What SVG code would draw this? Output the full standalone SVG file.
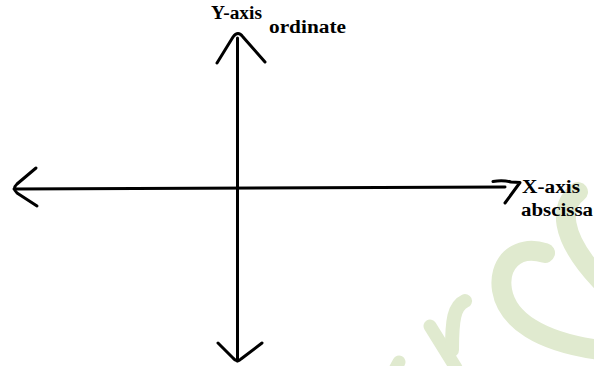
<svg xmlns="http://www.w3.org/2000/svg" width="594" height="366" viewBox="0 0 594 366">
  <style>
    .wm { fill: none; stroke: #e0eacf; stroke-linecap: round; }
    .ax { fill: none; stroke: #000; stroke-width: 3; stroke-linecap: round; stroke-linejoin: round; }
    .lbl { font-family: "Liberation Serif", "DejaVu Serif", serif; font-weight: bold; font-size: 18.5px; fill: #000; }
  </style>
  <rect width="594" height="366" fill="#fff"/>
  <g id="watermark">
    <path class="wm" stroke-width="20" d="M545 253 C 515 244, 498 265, 502 290 C 507 320, 540 342, 600 350"/>
    <path class="wm" stroke-width="20" d="M578 192 C 560 205, 558 235, 600 280"/>
    <path class="wm" stroke-width="13" d="M430 326 L 456 368"/>
    <path class="wm" stroke-width="14" d="M452 350 C 452 320, 454 306, 465 301"/>
    <path class="wm" stroke-width="13" d="M392 375 L 399 362"/>
  </g>
  <g id="connectors">
    <line class="ax" x1="14" y1="189" x2="505" y2="187"/>
    <line class="ax" x1="237.5" y1="38" x2="237.5" y2="361"/>
  </g>
  <g id="arrow-left">
    <path class="ax" d="M36 168 L17 184 Q12 188.5 17 193 L37 206"/>
  </g>
  <g id="arrow-right">
    <path class="ax" d="M493 181.5 Q503 180 511 182 L520 182.5 L505 203"/>
  </g>
  <g id="arrow-up">
    <path class="ax" d="M217 63 L233 37 Q238 30 243 37 L265 62"/>
  </g>
  <g id="arrow-down">
    <path class="ax" d="M218 343 L233 358 Q237 363 241 359 L262 343"/>
  </g>
  <g id="label-y">
    <text class="lbl" x="211" y="18.5" textLength="51" lengthAdjust="spacingAndGlyphs">Y-axis</text>
    <text class="lbl" x="269" y="32.5" textLength="77" lengthAdjust="spacingAndGlyphs">ordinate</text>
  </g>
  <g id="label-x">
    <text class="lbl" x="522" y="193" textLength="58" lengthAdjust="spacingAndGlyphs">X-axis</text>
    <text class="lbl" x="521" y="215.5" textLength="72" lengthAdjust="spacingAndGlyphs">abscissa</text>
  </g>
</svg>
